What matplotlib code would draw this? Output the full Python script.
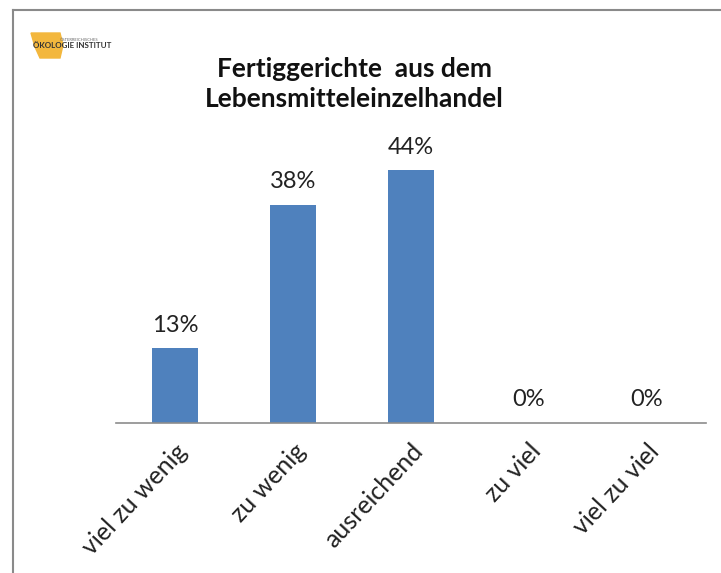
import matplotlib.pyplot as plt
from matplotlib.lines import Line2D
from matplotlib.patches import Polygon

plt.rcParams['font.family'] = ['Lato', 'DejaVu Sans']

categories = ['viel zu wenig', 'zu wenig', 'ausreichend', 'zu viel', 'viel zu viel']
shares = [0.13, 0.38, 0.44, 0.0, 0.0]
value_labels = ['13%', '38%', '44%', '0%', '0%']
title = 'Fertiggerichte  aus dem\nLebensmitteleinzelhandel'

bar_color = '#4f81bd'

fig = plt.figure(figsize=(7.21, 5.73), dpi=100)
ax = fig.add_axes([0.161, 0.2618, 0.818, 0.5017])

x = range(len(categories))
ax.bar(x, shares, width=0.39, color=bar_color)
for xi, v, lab in zip(x, shares, value_labels):
    ax.annotate(lab, (xi, v), xytext=(0, 9), textcoords='offset points',
                ha='center', va='bottom', fontsize=17, color='#222222')

ax.set_xlim(-0.5, len(categories) - 0.5)
ax.set_ylim(0, 0.5)
ax.set_yticks([])
ax.set_xticks(list(x))
ax.set_xticklabels(categories, rotation=47, ha='right', rotation_mode='anchor',
                   fontsize=18, color='#222222')
ax.tick_params(axis='x', length=0, pad=12)
for side in ['top', 'right', 'left']:
    ax.spines[side].set_visible(False)
ax.spines['bottom'].set_color('#8c8c8c')
ax.spines['bottom'].set_linewidth(1.2)

fig.text(0.492, 1 - 84 / 573, title, ha='center', va='center', fontsize=19,
         fontweight='bold', linespacing=1.3, color='#111111')

# outer frame (top and left edge only)
fig.add_artist(Line2D([13 / 721, 1], [1 - 10 / 573] * 2, color='#8a8a8a', lw=1.5))
fig.add_artist(Line2D([13 / 721] * 2, [0, 1 - 10 / 573], color='#8a8a8a', lw=1.5))

# institute logo
logo = Polygon([[31 / 721, 1 - 33 / 573], [60 / 721, 1 - 33 / 573],
                [63 / 721, 1 - 45 / 573], [60 / 721, 1 - 58 / 573],
                [40 / 721, 1 - 58 / 573], [35 / 721, 1 - 47 / 573]],
               closed=True, transform=fig.transFigure, color='#f3b73d')
fig.add_artist(logo)
fig.text(33 / 721, 1 - 46 / 573, 'ÖKOLOGIE INSTITUT', fontsize=5.8,
         fontweight='bold', color='#333333', va='center')
fig.text(60 / 721, 1 - 40 / 573, 'ÖSTERREICHISCHES', fontsize=3,
         color='#666666', va='center')

fig.savefig('out.png', dpi=100)
